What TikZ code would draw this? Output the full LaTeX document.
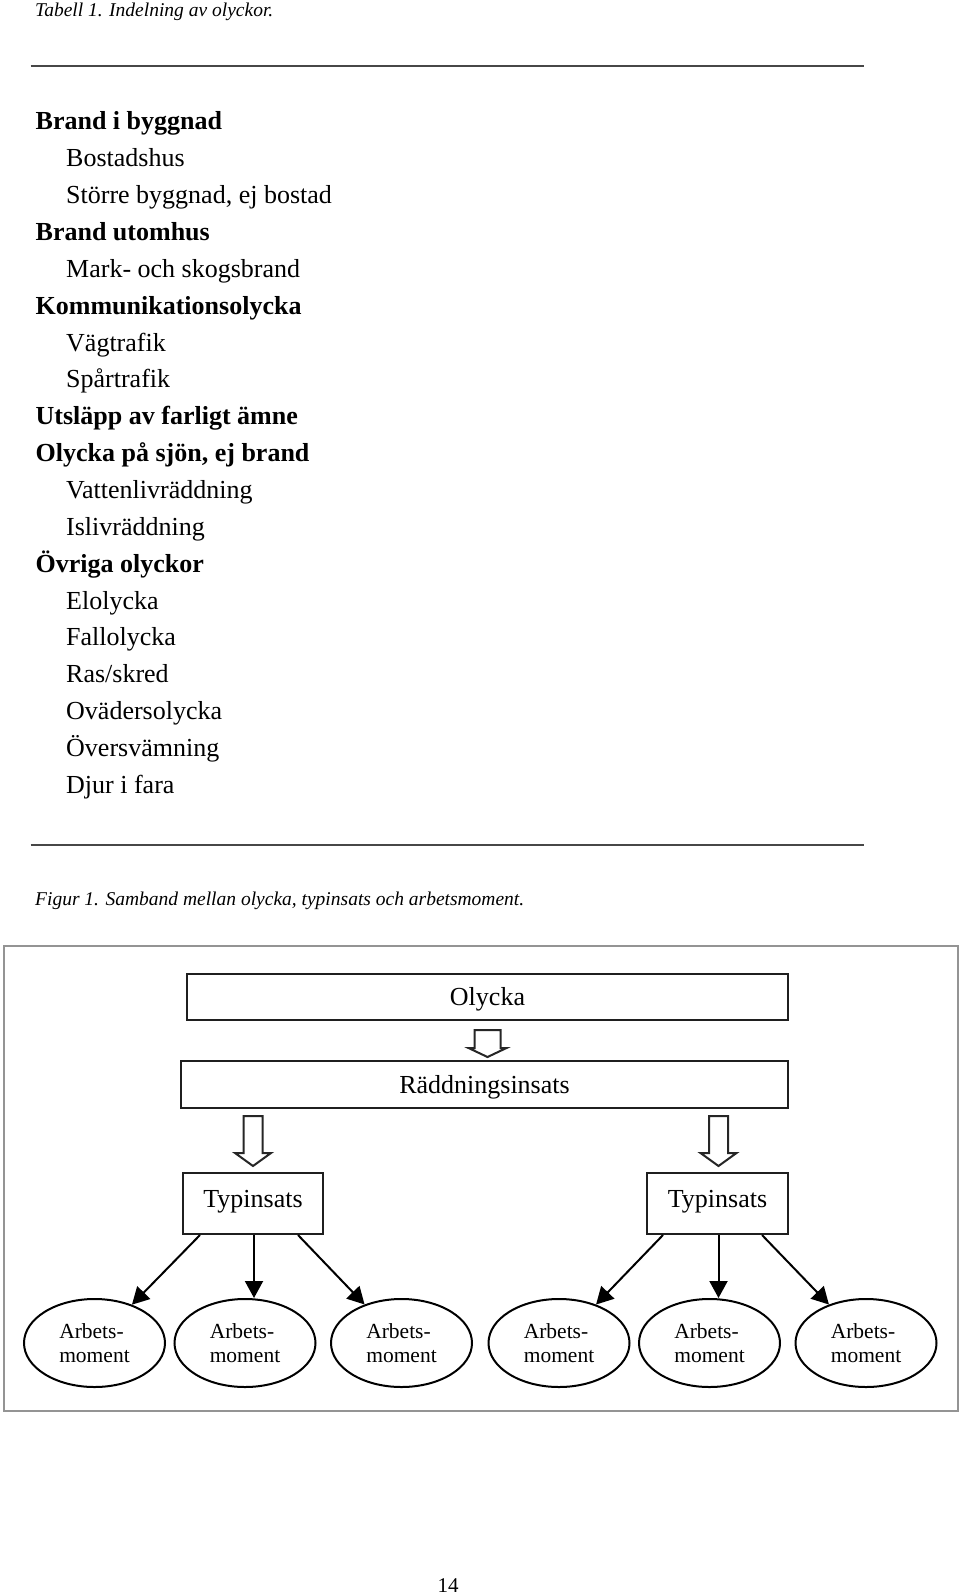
\documentclass[tikz,border=0pt]{standalone}
\usepackage{fontspec}
\setmainfont{Liberation Serif}
\usetikzlibrary{arrows.meta,shapes.geometric,calc}
\begin{document}
\begin{tikzpicture}[x=1pt,y=-1pt,
  cat/.style={anchor=base west,inner sep=0pt,font=\fontsize{26}{30}\selectfont\bfseries},
  sub/.style={anchor=base west,inner sep=0pt,font=\fontsize{26}{30}\selectfont},
  capt/.style={anchor=base west,inner sep=0pt,font=\fontsize{19.5}{23}\selectfont\itshape},
  rulel/.style={line width=2pt,draw=black!72},
  box/.style={draw=black!88,line width=2pt,rectangle,inner sep=0pt,font=\fontsize{26}{30}\selectfont,text height=17.2pt,text depth=0pt},
  oval/.style={draw=black,line width=2pt,ellipse,minimum width=141pt,minimum height=88pt,inner sep=0pt,align=left,font=\fontsize{21.5}{24.5}\selectfont},
  blk/.style={draw=black!85,line width=2pt,fill=white,line join=miter},
  link/.style={draw=black,line width=2pt,-{Triangle[length=17pt,width=18pt]}}
]
\useasboundingbox (0,0) rectangle (960,1594);

% caption and rules
\node[capt] (tab) at (35,17) {Tabell 1. Indelning av olyckor.};
\draw[rulel] (30.5,66) -- (864,66);

% list
\node[cat] (l0)  at (35.5,130.00) {Brand i byggnad};
\node[sub] (l1)  at (66,166.85) {Bostadshus};
\node[sub] (l2)  at (66,203.70) {Större byggnad, ej bostad};
\node[cat] (l3)  at (35.5,240.55) {Brand utomhus};
\node[sub] (l4)  at (66,277.40) {Mark- och skogsbrand};
\node[cat] (l5)  at (35.5,314.25) {Kommunikationsolycka};
\node[sub] (l6)  at (66,351.10) {Vägtrafik};
\node[sub] (l7)  at (66,387.95) {Spårtrafik};
\node[cat] (l8)  at (35.5,424.80) {Utsläpp av farligt ämne};
\node[cat] (l9)  at (35.5,461.65) {Olycka på sjön, ej brand};
\node[sub] (l10) at (66,498.50) {Vattenlivräddning};
\node[sub] (l11) at (66,535.35) {Islivräddning};
\node[cat] (l12) at (35.5,572.20) {Övriga olyckor};
\node[sub] (l13) at (66,609.05) {Elolycka};
\node[sub] (l14) at (66,645.90) {Fallolycka};
\node[sub] (l15) at (66,682.75) {Ras/skred};
\node[sub] (l16) at (66,719.60) {Ovädersolycka};
\node[sub] (l17) at (66,756.45) {Översvämning};
\node[sub] (l18) at (66,793.30) {Djur i fara};

\draw[rulel] (30.5,845) -- (864,845);
\node[capt] (fig) at (35,905) {Figur 1. Samband mellan olycka, typinsats och arbetsmoment.};

% figure frame
\draw[draw=black!42,line width=2pt] (4,946) rectangle (958,1411);

% boxes
\node[box,minimum width=601pt,minimum height=46pt] (olycka) at (487.5,997) {Olycka};
\node[box,minimum width=607pt,minimum height=47pt] (radd) at (484.5,1084.5) {Räddningsinsats};
\node[box,minimum width=140pt,minimum height=61pt,text depth=10pt] (typL) at (253,1203.5) {Typinsats};
\node[box,minimum width=141pt,minimum height=61pt,text depth=10pt] (typR) at (717.5,1203.5) {Typinsats};

% block arrows
\draw[blk] ($(olycka.south)+(-13,9)$) -- ++(26,0) -- ++(0,18) -- ++(6,0) -- ++(-19,9) -- ++(-19,-9) -- ++(6,0) -- cycle;
\draw[blk] ($(typL.north)+(-9.5,-56)$) -- ++(19,0) -- ++(0,37) -- ++(8.5,0) -- ++(-18,13) -- ++(-18,-13) -- ++(8.5,0) -- cycle;
\draw[blk] ($(typR.north)+(-8.5,-56)$) -- ++(19,0) -- ++(0,37) -- ++(8.5,0) -- ++(-18,13) -- ++(-18,-13) -- ++(8.5,0) -- cycle;

% ellipses
\node[oval] (e1) at (94.5,1343) {Arbets-\\moment};
\node[oval] (e2) at (245,1343) {Arbets-\\moment};
\node[oval] (e3) at (401.5,1343) {Arbets-\\moment};
\node[oval] (e4) at (559,1343) {Arbets-\\moment};
\node[oval] (e5) at (709.5,1343) {Arbets-\\moment};
\node[oval] (e6) at (866,1343) {Arbets-\\moment};

% arrows
\draw[link] ([xshift=-53pt]typL.south) -- (e1);
\draw[link] ([xshift=1pt]typL.south) -- ([xshift=1pt]typL.south |- e2.north);
\draw[link] ([xshift=45pt]typL.south) -- (e3);
\draw[link] ([xshift=-54.5pt]typR.south) -- (e4);
\draw[link] ([xshift=1pt]typR.south) -- ([xshift=1pt]typR.south |- e5.north);
\draw[link] ([xshift=44.5pt]typR.south) -- (e6);

% page number
\node[anchor=base,inner sep=0pt,font=\fontsize{21}{24}\selectfont] (page) at (448,1592) {14};
\end{tikzpicture}
\end{document}
